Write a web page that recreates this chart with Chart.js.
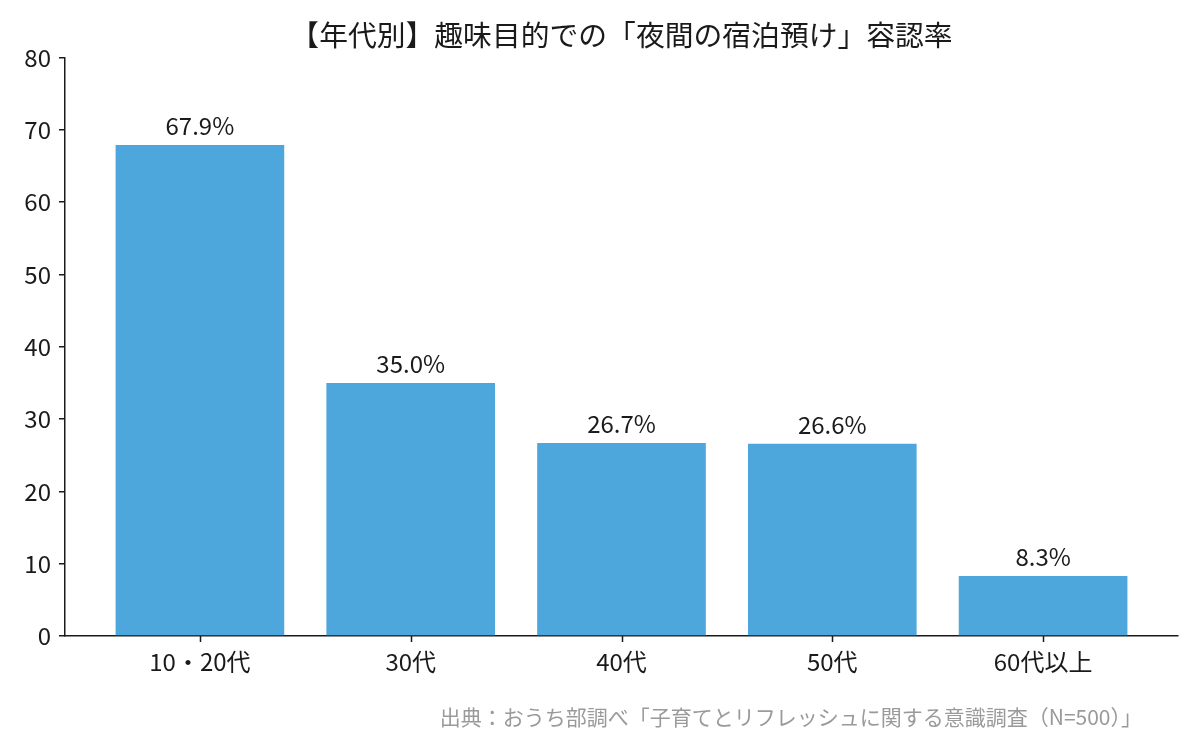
<!DOCTYPE html>
<html>
<head>
<meta charset="utf-8">
<script src="https://cdn.jsdelivr.net/npm/chart.js@4.4.1/dist/chart.umd.min.js"></script>
<style>
  html, body { margin: 0; padding: 0; background: #fff; }
  #wrap { width: 1200px; height: 750px; position: relative; }
</style>
</head>
<body>
<div id="wrap"><canvas id="c" width="1200" height="750"></canvas></div>
<script>
const categories = ['10・20代', '30代', '40代', '50代', '60代以上'];
const values = [67.9, 35.0, 26.7, 26.6, 8.3];
const valueLabels = ['67.9%', '35.0%', '26.7%', '26.6%', '8.3%'];
const yTicks = [0, 10, 20, 30, 40, 50, 60, 70, 80];
const titleText = '【年代別】趣味目的での「夜間の宿泊預け」容認率';
const sourceText = '出典：おうち部調べ「子育てとリフレッシュに関する意識調査（N=500）」';

const FONT = '"Noto Sans CJK JP", "Noto Sans", sans-serif';
const AXIS = '#1a1a1a';

const barLabels = {
  id: 'barLabels',
  afterDatasetsDraw(chart) {
    const ctx = chart.ctx;
    const meta = chart.getDatasetMeta(0);
    ctx.save();
    ctx.font = '24px ' + FONT;
    ctx.fillStyle = '#1a1a1a';
    ctx.textAlign = 'center';
    ctx.textBaseline = 'bottom';
    meta.data.forEach((bar, i) => {
      ctx.fillText(valueLabels[i], bar.x, bar.y - 7);
    });
    ctx.restore();
  }
};

const xTickMarks = {
  id: 'xTickMarks',
  afterDraw(chart) {
    const ctx = chart.ctx;
    const xs = chart.scales.x;
    const y0 = chart.chartArea.bottom;
    ctx.save();
    ctx.strokeStyle = AXIS;
    ctx.lineWidth = 1.5;
    categories.forEach((c, i) => {
      const px = Math.round(xs.getPixelForValue(i)) + 0.5;
      ctx.beginPath();
      ctx.moveTo(px, y0);
      ctx.lineTo(px, y0 + 6);
      ctx.stroke();
    });
    ctx.restore();
  }
};

const sourceNote = {
  id: 'sourceNote',
  afterDraw(chart) {
    const ctx = chart.ctx;
    ctx.save();
    ctx.font = '21px ' + FONT;
    ctx.fillStyle = '#9a9a9a';
    ctx.textAlign = 'right';
    ctx.textBaseline = 'middle';
    ctx.fillText(sourceText, 1142, 717);
    ctx.restore();
  }
};

new Chart(document.getElementById('c'), {
  type: 'bar',
  data: {
    datasets: [{
      data: values.map((v, i) => ({ x: i, y: v })),
      backgroundColor: '#4ea7dc',
      borderWidth: 0,
      barPercentage: 0.8,
      categoryPercentage: 1.0
    }]
  },
  options: {
    responsive: false,
    animation: false,
    devicePixelRatio: 1,
    layout: { padding: { left: 0, right: 22, top: 0, bottom: 0 } },
    plugins: {
      legend: { display: false },
      tooltip: { enabled: false },
      title: {
        display: true,
        text: titleText,
        fullSize: false,
        color: '#1a1a1a',
        font: { family: FONT, size: 28.8, weight: 'normal', lineHeight: 1.2 },
        padding: { top: 18, bottom: 5 }
      }
    },
    scales: {
      x: {
        type: 'linear',
        min: -0.64,
        max: 4.64,
        offset: false,
        afterBuildTicks(scale) {
          scale.ticks = categories.map((c, i) => ({ value: i }));
        },
        afterFit(scale) { scale.height = 114; },
        ticks: {
          autoSkip: false,
          maxRotation: 0,
          padding: 5,
          color: '#1a1a1a',
          font: { family: FONT, size: 24 },
          callback: (v) => categories[v]
        },
        grid: { display: true, offset: false, drawOnChartArea: false, drawTicks: true, tickLength: 6, color: 'rgba(0,0,0,0)', lineWidth: 1.5 },
        border: { display: true, color: AXIS, width: 1.5 }
      },
      y: {
        min: 0,
        max: 80,
        afterBuildTicks(scale) {
          scale.ticks = yTicks.map(v => ({ value: v }));
        },
        afterFit(scale) { scale.width = 65; },
        ticks: {
          padding: 8,
          color: '#1a1a1a',
          font: { family: FONT, size: 24 },
          callback: (v) => String(v)
        },
        grid: { drawOnChartArea: false, drawTicks: true, tickLength: 6, color: AXIS, lineWidth: 1.5 },
        border: { display: true, color: AXIS, width: 1.5 }
      }
    }
  },
  plugins: [barLabels, xTickMarks, sourceNote]
});
</script>
</body>
</html>
